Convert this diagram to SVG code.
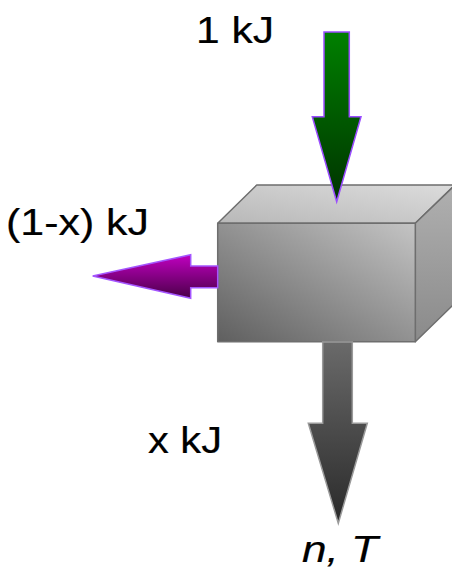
<svg xmlns="http://www.w3.org/2000/svg" width="452" height="574" viewBox="0 0 452 574">
<defs>
<linearGradient id="gGreen" x1="0" y1="0" x2="0" y2="1">
<stop offset="0" stop-color="#008000"/>
<stop offset="1" stop-color="#003300"/>
</linearGradient>
<linearGradient id="gPurple" x1="0" y1="0" x2="0" y2="1">
<stop offset="0" stop-color="#c000c0"/>
<stop offset="1" stop-color="#4a0048"/>
</linearGradient>
<linearGradient id="gGray" x1="0" y1="0" x2="0" y2="1">
<stop offset="0" stop-color="#6a6a6a"/>
<stop offset="1" stop-color="#2a2a2a"/>
</linearGradient>
<linearGradient id="gFront" x1="0" y1="1" x2="1" y2="0">
<stop offset="0" stop-color="#5f5f5f"/>
<stop offset="1" stop-color="#c4c4c4"/>
</linearGradient>
<linearGradient id="gTop" x1="0" y1="1" x2="1" y2="0">
<stop offset="0" stop-color="#b8b8b8"/>
<stop offset="1" stop-color="#dcdcdc"/>
</linearGradient>
<linearGradient id="gSide" x1="0" y1="0" x2="0" y2="1">
<stop offset="0" stop-color="#b0b0b0"/>
<stop offset="1" stop-color="#8a8a8a"/>
</linearGradient>
</defs>
<style>
.lbl{font-family:"Liberation Sans",Arial,sans-serif;font-size:36px;fill:#000;stroke:#000;stroke-width:0.2}
.it{font-style:italic}
.face{stroke:#6e6e6e;stroke-width:1.5;stroke-linejoin:round}
</style>
<g id="box">
<polygon class="face" points="217.7,223.3 256.7,185 455,185 415.3,223.3" fill="url(#gTop)"/>
<polygon class="face" points="415.3,223.3 455,185 455,303 415.3,341.7" fill="url(#gSide)"/>
<rect class="face" x="217.7" y="223.3" width="197.6" height="118.4" fill="url(#gFront)"/>
</g>
<g id="connectors">
<polygon id="arrow-in" points="324,32 349.3,32 349.3,116.7 361,116.7 336.7,201.7 312.3,116.7 324,116.7" fill="url(#gGreen)" stroke="#9a4cff" stroke-width="1.5" stroke-linejoin="miter"/>
<polygon id="arrow-left" points="217.7,266 190.7,266 190.7,254.7 92.7,276 190.7,298.3 190.7,287.7 217.7,287.7" fill="url(#gPurple)" stroke="#a455ff" stroke-width="1.5"/>
<polygon id="arrow-down" points="322.7,342 352.3,342 352.3,423.3 367.3,423.3 338.3,523.3 308.3,423.3 322.7,423.3" fill="url(#gGray)" stroke="#9a9a9a" stroke-width="1.5"/>
</g>
<g id="labels">
<text class="lbl" x="196" y="42.7" textLength="78" lengthAdjust="spacingAndGlyphs">1 kJ</text>
<text class="lbl" x="6" y="234.5" textLength="143" lengthAdjust="spacingAndGlyphs">(1-x) kJ</text>
<text class="lbl" x="148" y="452.7" textLength="74" lengthAdjust="spacingAndGlyphs">x kJ</text>
<text class="lbl it" x="302" y="561.7" textLength="76" lengthAdjust="spacingAndGlyphs">n, T</text>
</g>
</svg>
